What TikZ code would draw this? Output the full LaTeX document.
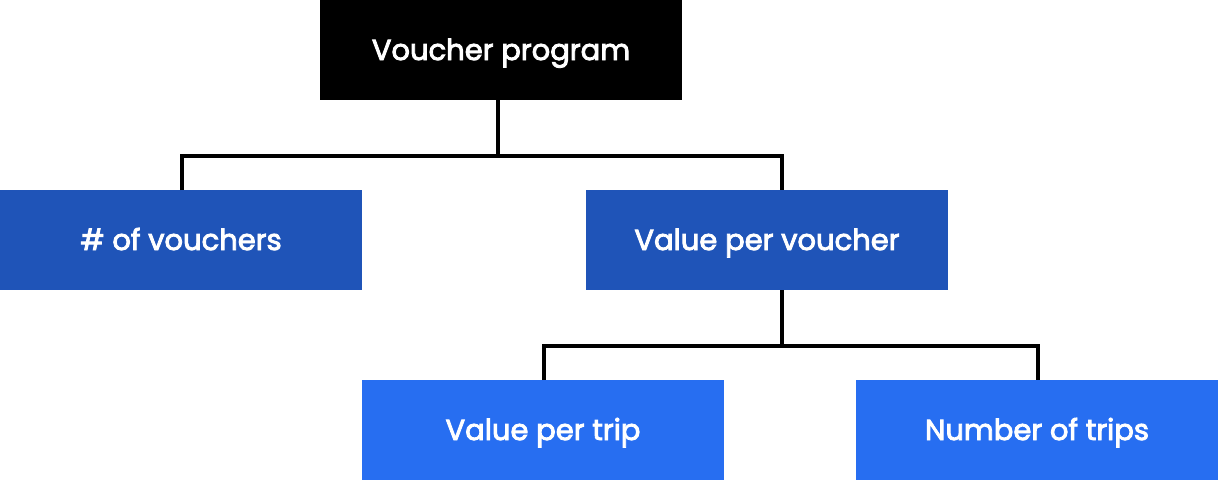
\documentclass[tikz,border=0pt]{standalone}
\usepackage{fontspec}
\setmainfont{Poppins}
\newfontfamily\boxfont[FakeBold=3]{Poppins}
\definecolor{uberblack}{HTML}{000000}
\definecolor{darkblue}{HTML}{1F54B8}
\definecolor{brightblue}{HTML}{276EF1}
\begin{document}
\begin{tikzpicture}[x=1pt,y=-1pt,
  box/.style={minimum width=362pt,minimum height=100pt,inner sep=0pt,outer sep=0pt,
    text height=23pt,text depth=3pt,
    text=white,font=\boxfont\fontsize{29}{32}\selectfont},
  link/.style={line width=4pt,draw=black}]
\useasboundingbox (0,0) rectangle (1218,480);
\node[box,fill=uberblack] (top) at (501,50) {Voucher program};
\node[box,fill=darkblue] (nv) at (181,240) {\# of vouchers};
\node[box,fill=darkblue] (vpv) at (767,240) {Value per voucher};
\node[box,fill=brightblue] (vpt) at (543,430) {Value per trip};
\node[box,fill=brightblue] (nt) at (1037,430) {Number of trips};
\coordinate (a1) at ([xshift=-3pt]top.south);
\coordinate (a2) at ([xshift=1pt]nv.north);
\coordinate (a3) at ([xshift=15pt]vpv.north);
\coordinate (b1) at ([xshift=15pt]vpv.south);
\coordinate (b2) at ([xshift=1pt]vpt.north);
\coordinate (b3) at ([xshift=1pt]nt.north);
\draw[link] (a1) -- ++(0,56) coordinate (am);
\draw[link] (a2) |- (am) -| (a3);
\draw[link] (b1) -- ++(0,56) coordinate (bm);
\draw[link] (b2) |- (bm) -| (b3);
\end{tikzpicture}
\end{document}
